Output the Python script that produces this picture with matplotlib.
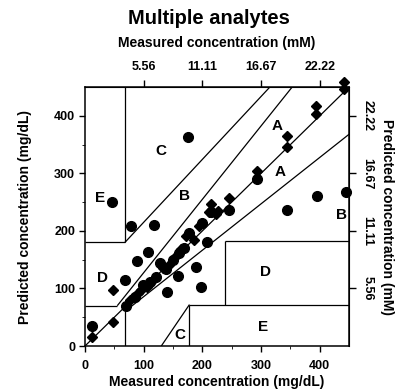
import matplotlib
matplotlib.use("Agg")
import matplotlib.pyplot as plt

plt.rcParams['font.family'] = ['Liberation Sans', 'DejaVu Sans']
plt.rcParams['font.weight'] = 'bold'

# measured (x) vs predicted (y), mg/dL
circle_x = [12, 46, 78, 117, 108, 88, 69, 139, 158, 190, 198, 208, 175, 395, 444, 344,
            293, 246, 215, 70, 85, 99, 110, 121, 127, 138, 150, 161, 169, 178, 200]
circle_y = [35, 250, 208, 211, 164, 148, 115, 93, 122, 138, 103, 180, 363, 260, 267, 236,
            290, 237, 232, 70, 86, 106, 112, 120, 144, 133, 150, 162, 170, 197, 214]

diamond_x = [12, 48, 48, 76, 90, 96, 105, 116, 133, 144, 155, 164, 172, 186, 195, 212,
             223, 226, 215, 246, 293, 344, 344, 393, 393, 441, 441]
diamond_y = [16, 42, 98, 80, 92, 98, 102, 115, 136, 141, 156, 168, 191, 185, 208, 232,
             229, 234, 246, 258, 304, 365, 346, 417, 403, 447, 458]

# error grid boundaries (mg/dL)
grid_lines = [
    ([0, 450], [0, 450]),            # identity
    ([55, 353], [70, 450]),          # upper A/B
    ([68, 315], [180, 450]),         # upper B/C
    ([68, 450], [60, 368]),          # lower A/B
    ([0, 55], [70, 70]),
    ([0, 68], [180, 180]),
    ([68, 68], [180, 450]),
    ([68, 68], [0, 60]),
    ([130, 178], [0, 72]),           # lower C
    ([178, 178], [0, 72]),
    ([178, 450], [72, 72]),
    ([238, 238], [72, 182]),
    ([238, 450], [182, 182]),
]

zone_labels = ['C', 'B', 'A', 'A', 'B', 'E', 'D', 'D', 'C', 'E']
zone_x = [129, 169, 327, 333, 437, 25, 29, 307, 161, 303]
zone_y = [339, 260, 382, 302, 228, 258, 119, 129, 19, 33]

mm_ticks = [5.56, 11.11, 16.67, 22.22]
mg_ticks = [0, 100, 200, 300, 400]

fig = plt.figure(figsize=(4.02, 3.90), dpi=100)
ax = fig.add_axes([0.2114, 0.1128, 0.657, 0.664])

for gx, gy in grid_lines:
    ax.plot(gx, gy, color='black', lw=0.9, solid_capstyle='butt')

ax.plot(circle_x, circle_y, 'o', color='black', ms=7, clip_on=False)
ax.plot(diamond_x, diamond_y, 'D', color='black', ms=5.2, clip_on=False)

for t, zx, zy in zip(zone_labels, zone_x, zone_y):
    ax.text(zx, zy, t, fontsize=11, fontweight='bold', ha='center', va='center')

ax.set_xlim(0, 450)
ax.set_ylim(0, 450)
ax.set_xticks(mg_ticks)
ax.set_yticks(mg_ticks)
ax.set_xticks([50, 150, 250, 350], minor=True)
ax.set_yticks([50, 150, 250, 350], minor=True)
ax.tick_params(labelsize=9, width=1, length=4)
ax.tick_params(axis='x', pad=6)
ax.tick_params(axis='y', pad=3)
ax.tick_params(which='minor', length=2.5)
for lab in ax.get_xticklabels() + ax.get_yticklabels():
    lab.set_fontweight('bold')
for s in ax.spines.values():
    s.set_linewidth(1.1)

ax.set_xlabel('Measured concentration (mg/dL)', fontsize=10, fontweight='bold', labelpad=2)
ax.set_ylabel('Predicted concentration (mg/dL)', fontsize=10, fontweight='bold', labelpad=16)

def to_mm(v):
    return v / 18.0

def to_mg(v):
    return v * 18.0

top = ax.secondary_xaxis('top', functions=(to_mm, to_mg))
top.set_xticks(mm_ticks)
top.set_xticklabels(['%.2f' % v for v in mm_ticks], fontsize=9, fontweight='bold')
top.tick_params(length=5, width=1, pad=5)
top.set_xlabel('Measured concentration (mM)', fontsize=10, fontweight='bold', labelpad=10)

right = ax.secondary_yaxis('right', functions=(to_mm, to_mg))
right.set_yticks(mm_ticks)
right.set_yticklabels(['%.2f' % v for v in mm_ticks], fontsize=9, fontweight='bold',
                      rotation=270, va='center')
right.tick_params(length=5, width=1, pad=4)
right.set_ylabel('Predicted concentration (mM)', fontsize=10, fontweight='bold',
                 rotation=270, labelpad=15)

fig.text(0.52, 0.952, 'Multiple analytes', fontsize=14.5, fontweight='bold',
         ha='center', va='center')

fig.savefig('out.png', dpi=100)
